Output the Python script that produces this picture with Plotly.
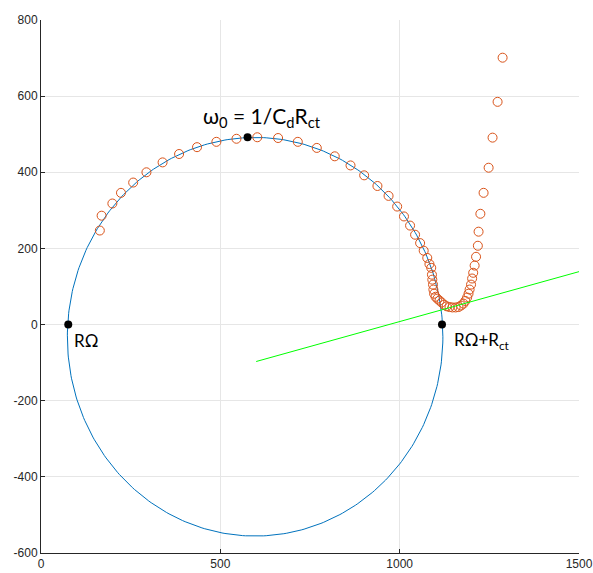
import numpy as np
import plotly.graph_objects as go

# Measured impedance points (Z', -Z'')
z_re = [164, 169, 199, 223, 257, 294, 339, 385, 435, 489, 545, 603, 661, 716, 769, 819,
        863, 901, 938, 969, 993, 1012, 1029, 1043, 1057, 1067, 1077, 1083, 1088, 1090,
        1091, 1093, 1094, 1096, 1100, 1105, 1111, 1117, 1124, 1131, 1139, 1147, 1156,
        1164, 1171, 1178, 1183, 1188, 1192, 1195, 1199, 1202, 1205, 1209, 1213, 1218,
        1220, 1225, 1234, 1248, 1259, 1273, 1287]
z_im = [247, 286, 318, 346, 373, 400, 426, 448, 466, 480, 488, 492, 490, 480, 464, 442,
        418, 392, 364, 338, 310, 284, 260, 236, 214, 194, 175, 159, 149, 131,
        118, 105, 92, 81, 73, 68, 63, 58, 52, 48, 46, 45, 45,
        46, 50, 55, 62, 71, 81, 92, 105, 121, 136, 155, 178, 207,
        244, 291, 346, 412, 491, 585, 701]

# Fitted semicircle parameters
circle_center = (597, -32)
circle_radius = 523.5

# Key points
key_x = [76, 1118, 576]
key_y = [0, 0, 492]

# Green line endpoints
green_x = [600, 1500]
green_y = [-97, 139]

# Tick labels
x_ticks = [0, 500, 1000, 1500]
x_labels = ["0", "500", "1000", "1500"]
y_ticks = [-600, -400, -200, 0, 200, 400, 600, 800]
y_labels = ["-600", "-400", "-200", "0", "200", "400", "600", "800"]

t = np.linspace(0, 2 * np.pi, 400)
cx = circle_center[0] + circle_radius * np.cos(t)
cy = circle_center[1] + circle_radius * np.sin(t)

fig = go.Figure()
fig.add_trace(go.Scatter(x=cx, y=cy, mode="lines",
                         line=dict(color="#0072BD", width=1)))
fig.add_trace(go.Scatter(x=z_re, y=z_im, mode="markers",
                         marker=dict(symbol="circle-open", size=9, color="#D95319",
                                     line=dict(width=1, color="#D95319"))))
fig.add_trace(go.Scatter(x=green_x, y=green_y, mode="lines",
                         line=dict(color="#00FF00", width=1)))
fig.add_trace(go.Scatter(x=key_x, y=key_y, mode="markers",
                         marker=dict(size=8, color="black")))

ann_font = dict(family="Lato, Open Sans, sans-serif", color="black")
fig.add_annotation(x=615, y=546, text="ω<sub>0</sub> = 1/C<sub>d</sub>R<sub>ct</sub>",
                   showarrow=False, font=dict(size=21, **ann_font))
fig.add_annotation(x=86, y=-42, text="RΩ", xanchor="left", showarrow=False,
                   font=dict(size=17, **ann_font))
fig.add_annotation(x=1145, y=-42, text="RΩ+R<sub>ct</sub>", xanchor="left", showarrow=False,
                   font=dict(size=17, **ann_font))

axis_common = dict(showline=True, linecolor="#262626", linewidth=1, ticks="inside",
                   tickcolor="#262626", ticklen=4, showgrid=True, gridcolor="#e6e6e6",
                   zeroline=False, automargin=False,
                   tickfont=dict(family="Liberation Sans, Arial", size=12, color="#262626"))
fig.update_xaxes(range=[0, 1500], tickvals=x_ticks, ticktext=x_labels, **axis_common)
fig.update_yaxes(range=[-600, 800], tickvals=y_ticks, ticktext=y_labels, **axis_common)
fig.update_layout(width=593, height=573, showlegend=False,
                  plot_bgcolor="white", paper_bgcolor="white",
                  margin=dict(l=41, r=14, t=20, b=20, autoexpand=False))
fig.write_html("out.html")
